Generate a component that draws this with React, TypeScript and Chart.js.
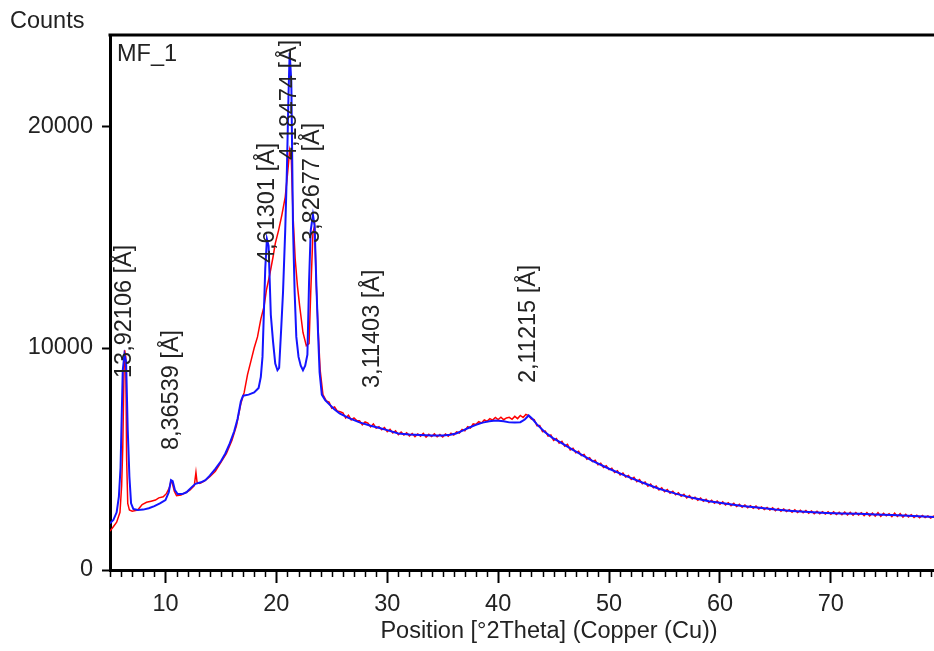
import React, { useEffect, useRef } from 'react';
import { Chart, registerables } from 'chart.js';

Chart.register(...registerables);

// ---- data (2Theta in degrees, intensity in counts) ----
const blueX = [
  5.0, 5.3, 5.6, 5.8, 5.95, 6.05, 6.15, 6.3, 6.45, 6.6, 6.75, 6.9, 7.1, 7.5, 8.0, 8.5, 9.0, 9.5,
  10.0, 10.3, 10.5, 10.65, 10.85, 11.1, 11.5, 11.9, 12.3, 12.7, 13.2, 13.6, 14.0, 14.5, 15.0, 15.4,
  15.8, 16.2, 16.5, 16.8, 17.0, 17.5, 18.0, 18.4, 18.6, 18.75, 18.9, 19.0, 19.15, 19.3, 19.5, 19.7,
  19.9, 20.1, 20.25, 20.45, 20.6, 20.8, 20.95, 21.1, 21.2, 21.35, 21.5, 21.65, 21.8, 22.0, 22.2, 22.4,
  22.6, 22.8, 22.95, 23.1, 23.3, 23.45, 23.6, 23.75, 23.9, 24.1, 24.4, 24.8, 25.2, 25.7, 26.5, 27.5,
  28.5, 29.3, 30.0, 31.0, 32.0, 33.0, 34.0, 35.0, 35.7, 36.2, 36.8, 37.4, 38.0, 38.6, 39.2, 39.8,
  40.5, 41.0, 41.5, 42.0, 42.4, 42.75, 43.1, 43.5, 44.2, 44.9, 45.5, 46.7, 48.5, 50.0, 51.5, 53.0,
  54.5, 56.0, 57.5, 59.0, 60.6, 62.0, 63.6, 65.0, 66.5, 68.0, 69.6, 71.0, 72.6, 74.0, 75.5, 77.0, 79.3,
];
const blueY = [
  2100, 2250, 2600, 3300, 4600, 6800, 9000, 9700, 9400, 6300, 4200, 3000, 2750, 2700, 2720, 2780, 2880, 3000,
  3150, 3500, 4050, 4000, 3600, 3420, 3420, 3500, 3700, 3880, 3950, 4050, 4250, 4560, 4900, 5250,
  5700, 6250, 6800, 7600, 7850, 7900, 8000, 8200, 8700, 9600, 12000, 13600, 14900, 14600, 11500, 10300,
  9300, 9000, 9100, 11000, 12500, 15300, 18000, 21500, 23300, 22000, 15500, 12500, 10500, 9600, 9200, 9000,
  9200, 9700, 13000, 15300, 16000, 15500, 13000, 10800, 8900, 7900, 7650, 7450, 7250, 7050, 6850, 6650,
  6500, 6400, 6300, 6150, 6100, 6080, 6060, 6060, 6090, 6150, 6280, 6420, 6540, 6640, 6700, 6730,
  6700, 6650, 6640, 6660, 6780, 6960, 6800, 6560, 6220, 5950, 5780, 5420, 4920, 4560, 4240, 3940,
  3660, 3440, 3250, 3100, 2980, 2880, 2800, 2720, 2660, 2610, 2570, 2550, 2530, 2500, 2480, 2440, 2390,
];

// observed scan: peaks region, then 0.25 degree steps from 24.5 degrees
const redX = [
  5.0, 5.3, 5.6, 5.9, 6.05, 6.15, 6.25, 6.32, 6.42, 6.5, 6.6, 6.75, 7.0, 7.5, 7.9, 8.3, 8.7, 9.1,
  9.4, 9.8, 10.1, 10.35, 10.5, 10.6, 10.8, 11.0, 11.4, 11.8, 12.2, 12.6, 12.75, 12.85, 13.1, 13.5,
  14.0, 14.5, 15.0, 15.5, 16.0, 16.4, 16.8, 17.1, 17.4, 17.7, 18.0, 18.3, 18.6, 18.9, 19.1, 19.4,
  19.7, 19.9, 20.2, 20.5, 20.8, 21.0, 21.2, 21.35, 21.5, 21.7, 21.9, 22.1, 22.4, 22.7, 22.95, 23.1,
  23.3, 23.45, 23.6, 23.8, 23.95, 24.2,
  24.5, 24.75, 25.0, 25.25, 25.5, 25.75, 26.0, 26.25, 26.5, 26.75, 27.0, 27.25, 27.5, 27.75, 28.0, 28.25,
  28.5, 28.75, 29.0, 29.25, 29.5, 29.75, 30.0, 30.25, 30.5, 30.75, 31.0, 31.25, 31.5, 31.75, 32.0, 32.25,
  32.5, 32.75, 33.0, 33.25, 33.5, 33.75, 34.0, 34.25, 34.5, 34.75, 35.0, 35.25, 35.5, 35.75, 36.0, 36.25,
  36.5, 36.75, 37.0, 37.25, 37.5, 37.75, 38.0, 38.25, 38.5, 38.75, 39.0, 39.25, 39.5, 39.75, 40.0, 40.25,
  40.5, 40.75, 41.0, 41.25, 41.5, 41.75, 42.0, 42.25, 42.5, 42.75, 43.0, 43.25, 43.5, 43.75, 44.0, 44.25,
  44.5, 44.75, 45.0, 45.25, 45.5, 45.75, 46.0, 46.25, 46.5, 46.75, 47.0, 47.25, 47.5, 47.75, 48.0, 48.25,
  48.5, 48.75, 49.0, 49.25, 49.5, 49.75, 50.0, 50.25, 50.5, 50.75, 51.0, 51.25, 51.5, 51.75, 52.0, 52.25,
  52.5, 52.75, 53.0, 53.25, 53.5, 53.75, 54.0, 54.25, 54.5, 54.75, 55.0, 55.25, 55.5, 55.75, 56.0, 56.25,
  56.5, 56.75, 57.0, 57.25, 57.5, 57.75, 58.0, 58.25, 58.5, 58.75, 59.0, 59.25, 59.5, 59.75, 60.0, 60.25,
  60.5, 60.75, 61.0, 61.25, 61.5, 61.75, 62.0, 62.25, 62.5, 62.75, 63.0, 63.25, 63.5, 63.75, 64.0, 64.25,
  64.5, 64.75, 65.0, 65.25, 65.5, 65.75, 66.0, 66.25, 66.5, 66.75, 67.0, 67.25, 67.5, 67.75, 68.0, 68.25,
  68.5, 68.75, 69.0, 69.25, 69.5, 69.75, 70.0, 70.25, 70.5, 70.75, 71.0, 71.25, 71.5, 71.75, 72.0, 72.25,
  72.5, 72.75, 73.0, 73.25, 73.5, 73.75, 74.0, 74.25, 74.5, 74.75, 75.0, 75.25, 75.5, 75.75, 76.0, 76.25,
  76.5, 76.75, 77.0, 77.25, 77.5, 77.75, 78.0, 78.25, 78.5, 78.75, 79.0, 79.25, 79.5,
];
const redY = [
  1750, 1950, 2150, 2600, 3800, 5500, 8500, 9900, 9600, 5000, 3000, 2700, 2650, 2700, 2950, 3050, 3100, 3150,
  3250, 3300, 3450, 3700, 4000, 3950, 3550, 3350, 3380, 3480, 3600, 3800, 4400, 3950, 3900, 4000,
  4200, 4450, 4850, 5250, 5850, 6500, 7500, 8000, 8800, 9400, 10000, 10500, 11300, 11900, 12600, 13300,
  14100, 14700, 15300, 16000, 16800, 17800, 18900, 18500, 16000, 14000, 12800, 11900, 10700, 10100, 10200, 12500,
  15200, 15500, 12800, 10500, 9000, 7900,
  7620, 7560, 7290, 7350, 7160, 7130, 7080, 6850, 6970, 6760, 6850, 6730, 6720, 6540, 6670, 6620,
  6450, 6580, 6390, 6460, 6320, 6420, 6230, 6340, 6170, 6270, 6100, 6210, 6080, 6180, 6040, 6150,
  6010, 6130, 6030, 6150, 5990, 6110, 6010, 6130, 6000, 6100, 5990, 6130, 6030, 6160, 6080, 6220,
  6170, 6330, 6270, 6460, 6400, 6580, 6560, 6680, 6620, 6760, 6700, 6820, 6750, 6870, 6780, 6880,
  6770, 6850, 6880, 6790, 6920, 6820, 6960, 6870, 7010, 6950, 6800, 6770, 6500, 6510, 6230, 6260,
  6030, 6080, 5840, 5920, 5710, 5800, 5580, 5660, 5410, 5480, 5280, 5350, 5160, 5210, 4990, 5060,
  4880, 4940, 4740, 4810, 4620, 4700, 4520, 4580, 4390, 4470, 4280, 4370, 4190, 4260, 4080, 4170,
  3980, 4070, 3890, 3960, 3780, 3870, 3700, 3780, 3610, 3700, 3530, 3620, 3460, 3550, 3390, 3480,
  3320, 3410, 3250, 3350, 3200, 3280, 3140, 3240, 3100, 3190, 3040, 3140, 3010, 3110, 2960, 3070,
  2930, 3030, 2900, 3000, 2860, 2960, 2830, 2930, 2800, 2900, 2780, 2880, 2750, 2840, 2720, 2820,
  2700, 2800, 2670, 2770, 2650, 2750, 2630, 2720, 2600, 2710, 2590, 2690, 2580, 2680, 2560, 2660,
  2540, 2650, 2530, 2630, 2520, 2620, 2510, 2620, 2500, 2600, 2490, 2610, 2480, 2600, 2470, 2590,
  2480, 2580, 2450, 2580, 2440, 2560, 2430, 2580, 2420, 2550, 2440, 2530, 2400, 2560, 2410, 2540,
  2380, 2510, 2390, 2490, 2370, 2470, 2350, 2460, 2360, 2440, 2340, 2430, 2360,
];

const xTicks = [10, 20, 30, 40, 50, 60, 70];
const yTicks = [0, 10000, 20000];

const peakPositions = [6.344, 10.566, 19.225, 21.214, 23.225, 28.643, 42.78];
const peakLabels = [
  '13,92106 [Å]',
  '8,36539 [Å]',
  '4,61301 [Å]',
  '4,18474 [Å]',
  '3,82677 [Å]',
  '3,11403 [Å]',
  '2,11215 [Å]',
];
const peakLabelBase = [8650, 5400, 13830, 18470, 14730, 8200, 8420];

const sampleName = 'MF_1';
const yTitle = 'Counts';
const xTitle = 'Position [°2Theta] (Copper (Cu))';

const FONT_FAMILY = '"Liberation Sans", Arial, sans-serif';
const FONT_SIZE = 23.5;
const TEXT_COLOR = '#222';

const overlayPlugin = {
  id: 'overlay',
  afterDatasetsDraw(chart: any) {
    const { ctx, scales } = chart;
    const x = scales.x;
    const y = scales.y;
    ctx.save();
    ctx.font = `${FONT_SIZE}px ${FONT_FAMILY}`;
    ctx.fillStyle = TEXT_COLOR;
    peakLabels.forEach((t, i) => {
      const px = x.getPixelForValue(peakPositions[i]);
      const py = y.getPixelForValue(peakLabelBase[i]);
      ctx.save();
      ctx.translate(px, py);
      ctx.rotate(-Math.PI / 2);
      ctx.textAlign = 'left';
      ctx.textBaseline = 'middle';
      ctx.fillText(t, 0, 0);
      ctx.restore();
    });
    ctx.restore();
  },
  afterDraw(chart: any) {
    const { ctx, chartArea, scales } = chart;
    const x = scales.x;
    ctx.save();
    // top frame line
    ctx.strokeStyle = '#000';
    ctx.lineWidth = 3;
    ctx.beginPath();
    ctx.moveTo(chartArea.left - 1.5, chartArea.top);
    ctx.lineTo(chartArea.right, chartArea.top);
    ctx.stroke();
    // minor x ticks every degree
    ctx.lineWidth = 1.5;
    ctx.beginPath();
    for (let v = Math.ceil(x.min); v <= x.max; v++) {
      if (v % 10 === 0) continue;
      const px = Math.round(x.getPixelForValue(v)) + 0.5;
      ctx.moveTo(px, chartArea.bottom);
      ctx.lineTo(px, chartArea.bottom + 7);
    }
    ctx.stroke();
    // texts
    ctx.font = `${FONT_SIZE}px ${FONT_FAMILY}`;
    ctx.fillStyle = TEXT_COLOR;
    ctx.textAlign = 'left';
    ctx.textBaseline = 'alphabetic';
    ctx.fillText(yTitle, 10, 28);
    ctx.fillText(sampleName, 117, 61);
    ctx.textAlign = 'center';
    ctx.textBaseline = 'middle';
    ctx.fillText(xTitle, 549, 632);
    ctx.restore();
  },
};

export default function App() {
  const canvasRef = useRef<HTMLCanvasElement | null>(null);

  useEffect(() => {
    document.body.style.margin = '0';
    document.body.style.overflow = 'hidden';
    const canvas = canvasRef.current;
    if (!canvas) return;
    const chart = new Chart(canvas, {
      type: 'line',
      data: {
        datasets: [
          {
            label: 'calc',
            data: blueX.map((v, i) => ({ x: v, y: blueY[i] })),
            borderColor: 'rgb(20,20,255)',
            borderWidth: 2,
            pointRadius: 0,
            tension: 0,
            fill: false,
            order: 0,
          },
          {
            label: 'obs',
            data: redX.map((v, i) => ({ x: v, y: redY[i] })),
            borderColor: 'rgb(255,0,0)',
            borderWidth: 1.5,
            pointRadius: 0,
            tension: 0,
            fill: false,
            order: 1,
          },
        ],
      },
      options: {
        responsive: false,
        animation: false,
        devicePixelRatio: 1,
        layout: { padding: { top: 35, left: 0, right: 0, bottom: 0 } },
        plugins: {
          legend: { display: false },
          tooltip: { enabled: false },
          title: { display: false },
        },
        scales: {
          x: {
            type: 'linear',
            min: 5,
            max: 79.3,
            afterBuildTicks: (s: any) => {
              s.ticks = xTicks.map((v) => ({ value: v }));
            },
            afterFit: (s: any) => {
              s.height = 81;
            },
            border: { display: true, color: '#000', width: 3 },
            grid: {
              display: true,
              drawOnChartArea: false,
              drawTicks: true,
              tickLength: 13,
              tickWidth: 2,
              tickColor: '#000',
            },
            ticks: {
              autoSkip: false,
              maxRotation: 0,
              padding: 7,
              color: TEXT_COLOR,
              font: { family: FONT_FAMILY, size: FONT_SIZE },
            },
          },
          y: {
            type: 'linear',
            min: 0,
            max: 24100,
            afterBuildTicks: (s: any) => {
              s.ticks = yTicks.map((v) => ({ value: v }));
            },
            afterFit: (s: any) => {
              s.width = 110;
            },
            border: { display: true, color: '#000', width: 3 },
            grid: {
              display: true,
              drawOnChartArea: false,
              drawTicks: true,
              tickLength: 8,
              tickWidth: 2,
              tickColor: '#000',
            },
            ticks: {
              padding: 9,
              color: TEXT_COLOR,
              font: { family: FONT_FAMILY, size: FONT_SIZE },
              callback: (v: any) => String(v),
            },
          },
        },
      },
      plugins: [overlayPlugin],
    });
    return () => {
      chart.destroy();
    };
  }, []);

  return (
    <div style={{ width: 934, height: 651, position: 'relative', background: '#fff' }}>
      <canvas ref={canvasRef} width={934} height={651} style={{ display: 'block' }} />
    </div>
  );
}
